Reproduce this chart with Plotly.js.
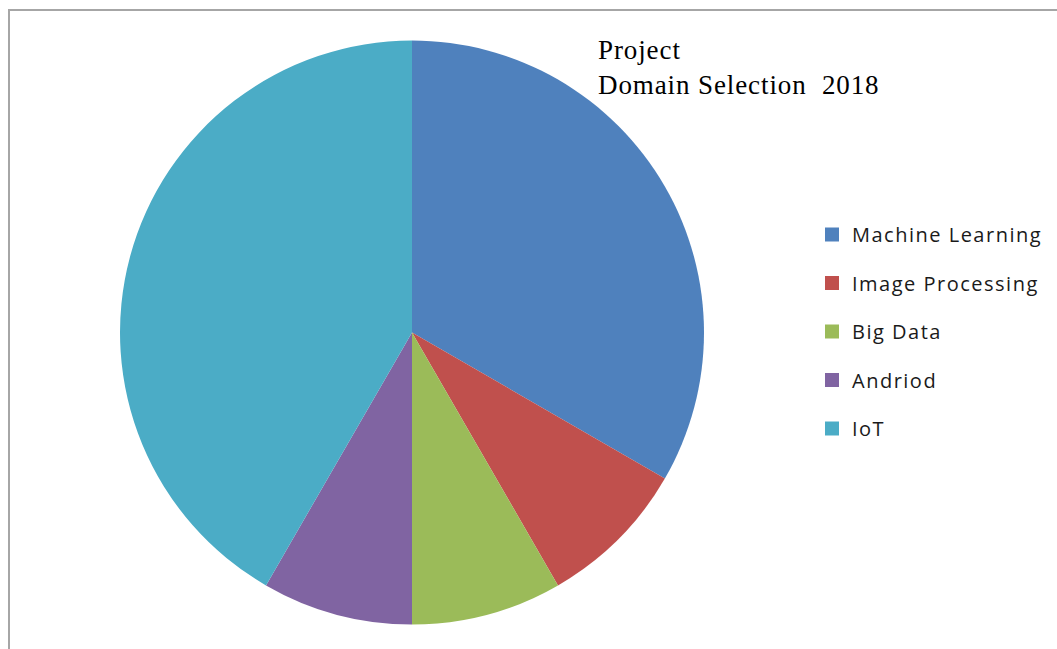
<!DOCTYPE html>
<html>
<head>
<meta charset="utf-8">
<script src="https://cdn.plot.ly/plotly-3.0.1.min.js"></script>
<style>
  html, body { margin: 0; padding: 0; background: #fff; }
  #frame { position: absolute; left: 8px; top: 9px; width: 1100px; height: 700px; border-left: 2px solid #a6a6a6; border-top: 2px solid #a6a6a6; }
  #chart { position: absolute; left: 0; top: 0; width: 1057px; height: 649px; }
  #chart .legendtext { letter-spacing: 1.5px; }
  #chart .legend .scrollbox { clip-path: none !important; }
  #chart .annotation-text { letter-spacing: 0.9px; }
</style>
</head>
<body>
<div id="frame"></div>
<div id="chart"></div>
<script>
const categories = ["Machine Learning", "Image Processing", "Big Data", "Andriod", "IoT"];
const values = [4, 1, 1, 1, 5];
const colors = ["#4F81BD", "#C0504D", "#9BBB59", "#8064A2", "#4BACC6"];
const titleText = "Project<br>Domain Selection  2018";

const W = 1057, H = 649;

const pie = {
  type: "pie",
  labels: categories,
  values: values,
  sort: false,
  direction: "clockwise",
  rotation: 0,
  textinfo: "none",
  hoverinfo: "label+value+percent",
  marker: { colors: colors, line: { width: 0 } },
  showlegend: false,
  domain: { x: [120 / W, 704 / W], y: [(H - 625) / H, (H - 40) / H] }
};

const legendTraces = categories.map((c, i) => ({
  type: "scatter",
  mode: "markers",
  x: [null], y: [null],
  name: c,
  legendgroup: "g" + i,
  marker: { symbol: "square", size: 14, color: colors[i] },
  hoverinfo: "skip",
  xaxis: "x", yaxis: "y"
}));

const layout = {
  width: W, height: H,
  margin: { l: 0, r: 0, t: 0, b: 0 },
  paper_bgcolor: "rgba(0,0,0,0)",
  plot_bgcolor: "rgba(0,0,0,0)",
  xaxis: { visible: false, domain: [0.99, 1] },
  yaxis: { visible: false, domain: [0.99, 1] },
  showlegend: true,
  legend: {
    x: 812 / W, xanchor: "left",
    y: 1 - 215 / H, yanchor: "top",
    traceorder: "grouped",
    tracegroupgap: 19.5,
    font: { family: "Open Sans, sans-serif", size: 20, color: "#1a1a1a" },
    bgcolor: "rgba(0,0,0,0)"
  },
  annotations: [{
    text: titleText,
    xref: "paper", yref: "paper",
    x: 596 / W, xanchor: "left",
    y: 1 - 33 / H, yanchor: "top",
    align: "left",
    showarrow: false,
    font: { family: "Liberation Serif, Times New Roman, serif", size: 27, color: "#000" }
  }]
};

Plotly.newPlot("chart", [pie].concat(legendTraces), layout, { displayModeBar: false });
</script>
</body>
</html>
